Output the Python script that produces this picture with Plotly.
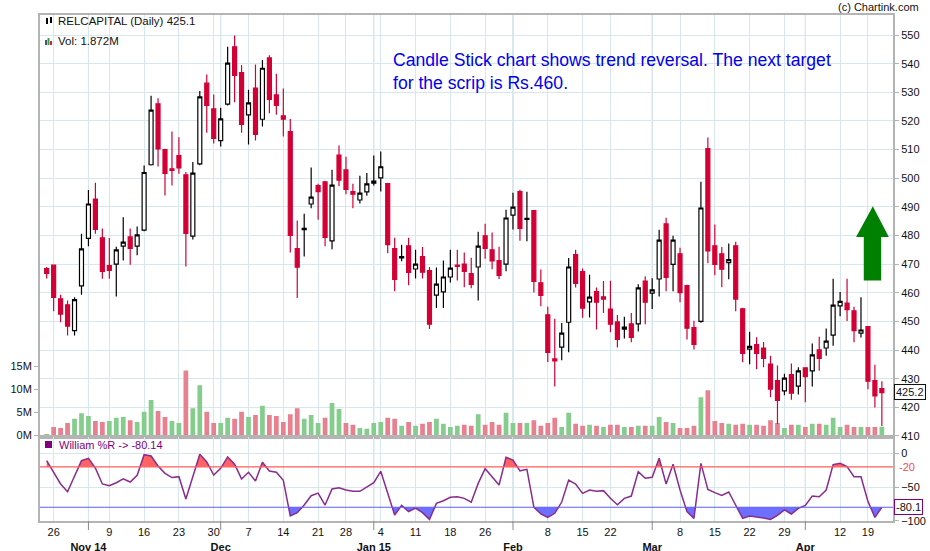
import plotly.graph_objects as go

# RELCAPITAL daily, 23 Oct 2014 - 22 Apr 2015 (121 sessions)
open_ = [468.4, 469.7, 457.9, 455.8, 446.8, 462.4, 479.0, 492.7, 479.2, 469.5,
         470.0, 476.3, 479.5, 476.3, 481.9, 504.7, 526.0, 510.0, 503.3, 507.9,
         501.2, 479.8, 505.0, 533.2, 524.2, 513.1, 525.9, 545.9, 536.9, 522.1,
         531.5, 520.6, 542.0, 529.1, 521.8, 516.3, 475.4, 482.0, 491.0, 497.4,
         498.7, 478.1, 508.1, 502.9, 495.3, 492.4, 495.2, 498.3, 500.1, 498.1,
         475.4, 472.2, 476.4, 468.3, 472.6, 467.7, 459.2, 460.3, 465.5, 469.7,
         470.0, 466.7, 469.0, 479.9, 475.0, 471.2, 470.0, 487.1, 495.3, 485.6,
         488.7, 463.5, 452.3, 436.9, 441.0, 449.7, 473.3, 467.4, 456.8, 460.4,
         458.6, 454.3, 449.8, 447.3, 449.1, 449.1, 464.1, 459.9, 464.8, 484.1,
         469.9, 473.6, 462.5, 447.8, 450.0, 510.3, 476.4, 473.6, 470.5, 476.4,
         454.4, 440.3, 441.9, 440.7, 435.1, 429.3, 425.7, 431.4, 427.4, 433.8,
         432.7, 440.1, 440.7, 445.2, 455.4, 456.4, 453.7, 445.9, 448.2, 429.3,
         426.5]
high = [469.0, 469.7, 459.3, 457.3, 458.4, 480.6, 495.9, 498.4, 482.4, 479.1,
        476.1, 486.4, 482.4, 483.1, 504.4, 528.8, 527.9, 510.3, 516.3, 514.3,
        502.2, 505.7, 530.5, 536.2, 529.2, 524.6, 545.9, 549.8, 539.5, 530.9,
        539.7, 541.3, 542.9, 536.5, 531.3, 520.7, 485.2, 487.6, 503.7, 498.1,
        499.1, 503.0, 511.4, 507.5, 498.1, 500.9, 501.8, 507.9, 509.3, 498.1,
        479.2, 476.8, 479.2, 475.0, 476.0, 469.0, 468.8, 471.3, 475.0, 475.0,
        474.1, 472.2, 481.3, 484.1, 481.0, 476.1, 489.0, 494.9, 496.0, 495.3,
        488.7, 468.1, 455.1, 450.9, 449.4, 472.1, 475.0, 468.5, 466.3, 461.8,
        464.1, 464.2, 452.2, 451.6, 452.9, 463.0, 465.8, 465.1, 482.0, 486.2,
        479.9, 475.7, 462.8, 450.2, 498.8, 514.2, 483.8, 476.0, 477.2, 477.8,
        454.8, 446.4, 444.5, 442.8, 438.0, 434.6, 431.7, 435.3, 434.0, 433.8,
        442.3, 444.6, 447.5, 464.9, 460.3, 464.9, 455.1, 458.4, 448.2, 434.9,
        429.1]
low = [465.0, 453.5, 449.7, 445.1, 445.1, 459.3, 476.2, 480.6, 464.9, 464.9,
       458.7, 471.3, 469.8, 473.1, 481.5, 504.4, 504.1, 494.0, 497.5, 501.6,
       469.2, 478.6, 504.5, 515.9, 512.1, 511.1, 525.4, 526.5, 515.9, 511.8,
       513.2, 518.1, 522.7, 522.2, 514.6, 474.1, 458.2, 472.7, 489.5, 485.5,
       476.2, 475.2, 497.2, 494.4, 489.5, 491.2, 493.9, 497.5, 495.4, 473.8,
       460.5, 471.0, 462.6, 465.0, 465.0, 447.3, 454.7, 454.7, 463.6, 464.3,
       461.9, 461.6, 457.3, 471.9, 468.2, 464.8, 467.5, 482.1, 478.2, 478.0,
       460.1, 455.3, 435.8, 427.3, 436.4, 439.2, 461.8, 451.3, 451.4, 447.2,
       452.9, 446.2, 440.9, 444.0, 442.7, 446.5, 449.0, 454.3, 458.7, 460.5,
       460.5, 456.7, 443.7, 440.2, 449.5, 470.3, 466.1, 461.9, 464.7, 453.5,
       435.7, 435.0, 433.3, 434.0, 423.5, 414.2, 424.2, 422.6, 424.5, 421.8,
       427.3, 432.8, 438.0, 441.5, 451.8, 450.1, 442.7, 444.4, 426.3, 419.9,
       413.5]
close = [466.8, 458.4, 452.5, 448.3, 457.6, 475.3, 491.0, 482.1, 467.5, 467.8,
         475.0, 477.7, 475.5, 480.2, 502.0, 523.8, 510.2, 501.7, 502.7, 503.6,
         480.7, 501.8, 528.4, 525.4, 513.9, 520.7, 540.2, 535.9, 518.8, 526.3,
         515.3, 538.4, 527.5, 525.4, 520.6, 480.0, 468.9, 482.5, 493.4, 495.3,
         479.3, 497.6, 499.3, 496.1, 494.4, 494.8, 498.0, 499.0, 504.0, 476.8,
         464.7, 472.6, 467.1, 470.0, 467.2, 449.0, 463.0, 465.5, 468.6, 469.2,
         467.5, 462.9, 476.3, 475.5, 471.1, 466.1, 486.1, 489.9, 482.5, 486.0,
         464.0, 459.1, 439.2, 436.2, 445.9, 469.0, 463.3, 454.6, 458.5, 456.7,
         457.8, 449.0, 443.7, 448.0, 444.4, 461.7, 456.7, 461.0, 478.4, 465.4,
         478.4, 460.0, 447.6, 442.0, 489.6, 474.6, 469.9, 468.2, 471.6, 457.8,
         438.8, 441.3, 438.8, 437.1, 426.3, 422.4, 430.2, 424.9, 432.7, 430.7,
         438.3, 437.1, 443.1, 455.7, 457.0, 454.1, 446.8, 447.0, 429.1, 424.0,
         425.1]
# volume in millions of shares
volume = [0.3, 1.8, 1.6, 2.7, 3.6, 4.8, 4.2, 3.1, 2.9, 3.1,
          3.8, 4.0, 3.3, 2.9, 5.1, 7.7, 5.3, 4.0, 3.1, 2.7,
          14.1, 5.9, 10.9, 5.1, 2.7, 2.7, 3.8, 3.6, 5.1, 4.0,
          4.4, 6.4, 4.4, 4.2, 2.9, 4.6, 5.9, 3.6, 4.4, 2.7,
          3.8, 7.0, 5.7, 2.7, 2.3, 1.6, 1.4, 2.7, 2.9, 3.8,
          3.6, 2.1, 2.9, 2.1, 2.5, 2.9, 3.6, 2.5, 1.8, 2.1,
          2.3, 2.1, 4.6, 2.3, 2.9, 2.3, 4.9, 2.7, 2.7, 2.7,
          3.3, 2.1, 2.7, 3.8, 1.8, 4.9, 2.5, 2.1, 2.3, 2.1,
          1.8, 2.3, 2.3, 1.8, 1.8, 2.1, 2.1, 2.1, 4.0, 2.9,
          2.7, 1.6, 1.6, 2.1, 8.3, 9.8, 3.1, 2.7, 2.5, 2.3,
          2.5, 2.3, 2.3, 2.1, 3.3, 2.7, 1.6, 2.3, 2.3, 1.8,
          2.5, 2.5, 2.3, 3.8, 1.8, 2.3, 1.8, 1.8, 1.8, 1.8,
          1.872]
# Williams %R (14)
will_r = [-11, -28, -45.5, -57, -35, -11, -7.4, -22, -45.5, -48,
          -43.6, -38, -42.6, -32.7, -2, -4, -18.8, -29.7, -36, -34.7,
          -67.8, -34.7, -1.5, -12.9, -32.2, -22.3, -5.4, -16.3, -38, -28.2,
          -41, -13.4, -26.2, -28.2, -40, -93, -88, -76.7, -62.9, -59,
          -76.7, -53, -51, -54.5, -56.4, -56.4, -49.5, -43.6, -26.7, -60.4,
          -91.6, -77.2, -86.6, -81.2, -88.1, -98, -74.3, -70.3, -65.3, -64.4,
          -66.8, -72.5, -44.6, -22.8, -34.7, -47, -6, -10, -26, -23.8,
          -80, -90, -95, -89, -72.3, -39.6, -45.5, -59.4, -54.5, -56.4,
          -55.4, -66.8, -76.2, -66.8, -63.4, -27.2, -37.1, -35.6, -7.4, -45.5,
          -16.3, -54.5, -86.6, -96.5, -14.9, -53.5, -58.4, -62.4, -57.4, -76.7,
          -96.5, -93, -94, -96, -98, -92, -84, -90, -81.7, -77.2,
          -63.4, -64.4, -54.5, -16.8, -14.9, -19.8, -34.7, -34.7, -71.3, -95,
          -80.14]

# x-axis labels (session index -> label)
day_ticks = [1, 9, 14, 19, 24, 29, 34, 39, 43, 48, 53, 58, 63,
             72, 77, 81, 91, 96, 101, 106, 114, 118]
day_labels = ['26', '9', '16', '23', '30', '7', '14', '21', '28', '4', '11', '18', '26',
              '8', '15', '22', '8', '15', '22', '29', '12', '19']
month_ticks = [6, 25, 47, 67, 87, 109]
month_labels = ['Nov 14', 'Dec', 'Jan 15', 'Feb', 'Mar', 'Apr']

RED = '#d20035'
VOL_UP = '#84cd8d'
VOL_DN = '#e8818f'
GRID = '#d8e7ed'
MONTH_GRID = '#b8cfd9'
AXIS = '#b4b4b4'
PURPLE = '#8a2b8f'
FONT = 'Liberation Sans, Arial, sans-serif'

W, H = 930, 551
ML, MR, MT, MB = 40, 37, 15, 30


def px(x):
    return (x - ML) / (W - ML - MR)


def py(y):
    return (H - MB - y) / (H - MT - MB)


def band(xs, ys, level, upper):
    """Part of the %R line beyond a level, closed back along the level."""
    out_x, out_y = [], []
    for i in range(len(xs)):
        if i > 0:
            a, b = ys[i - 1] - level, ys[i] - level
            if a * b < 0:
                t = a / (a - b)
                out_x.append(xs[i - 1] + t * (xs[i] - xs[i - 1]))
                out_y.append(level)
        v = max(ys[i], level) if upper else min(ys[i], level)
        out_x.append(xs[i])
        out_y.append(v)
    return out_x + [out_x[-1], out_x[0]], out_y + [level, level]


idx = list(range(len(close)))
vol_colors = [VOL_UP] + [VOL_UP if close[i] >= close[i - 1] else VOL_DN for i in idx[1:]]
split = py(436.5)

fig = go.Figure()

fig.add_trace(go.Bar(x=idx, y=volume, marker=dict(color=vol_colors, line_width=0),
                     width=0.68, xaxis='x', yaxis='y', hoverinfo='skip'))

fig.add_trace(go.Candlestick(
    x=idx, open=open_, high=high, low=low, close=close,
    increasing=dict(line=dict(color='black', width=1.2), fillcolor='white'),
    decreasing=dict(line=dict(color=RED, width=1.2), fillcolor=RED),
    xaxis='x', yaxis='y2', hoverinfo='skip'))

# Williams %R panel
hx, hy = band(idx, will_r, -20, True)
fig.add_trace(go.Scatter(x=hx, y=hy, fill='toself', fillcolor='#ff6363', mode='none',
                         xaxis='x2', yaxis='y3', hoverinfo='skip'))
lx, ly = band(idx, will_r, -80, False)
fig.add_trace(go.Scatter(x=lx, y=ly, fill='toself', fillcolor='#6e6eff', mode='none',
                         xaxis='x2', yaxis='y3', hoverinfo='skip'))
fig.add_trace(go.Scatter(x=idx, y=will_r, mode='lines', line=dict(color=PURPLE, width=1.5),
                         xaxis='x2', yaxis='y3', hoverinfo='skip'))

shapes = []
for m in month_ticks:
    shapes.append(dict(type='line', xref='x', yref='paper', x0=m, x1=m, y0=0, y1=1,
                       line=dict(color=MONTH_GRID, width=1), layer='below'))
    shapes.append(dict(type='line', xref='x', yref='paper', x0=m, x1=m,
                       y0=0, y1=py(530), line=dict(color='#888888', width=1)))
shapes.append(dict(type='line', xref='paper', yref='y3', x0=0, x1=1, y0=-20, y1=-20,
                   line=dict(color='#ff5c5c', width=1.2)))
shapes.append(dict(type='line', xref='paper', yref='y3', x0=0, x1=1, y0=-80, y1=-80,
                   line=dict(color='#5c5cff', width=1.2)))

# green target arrow
shapes.append(dict(type='path', xref='x', yref='y2', fillcolor='#008000', line_width=0,
                   path='M 117.4 464.3 L 117.4 479.5 L 116.3 479.5 L 118.7 490.2 '
                        'L 121.0 479.5 L 119.9 479.5 L 119.9 464.3 Z'))

# small legend icons
shapes += [
    dict(type='rect', xref='paper', yref='paper', x0=px(46), x1=px(48), y0=py(24), y1=py(18),
         fillcolor='black', line_width=0),
    dict(type='rect', xref='paper', yref='paper', x0=px(50), x1=px(52), y0=py(23), y1=py(17),
         fillcolor='black', line_width=0),
    dict(type='rect', xref='paper', yref='paper', x0=px(45), x1=px(47), y0=py(45), y1=py(40),
         fillcolor='#3c5a78', line_width=0),
    dict(type='rect', xref='paper', yref='paper', x0=px(47.5), x1=px(49.5), y0=py(45), y1=py(38),
         fillcolor='#3c9a50', line_width=0),
    dict(type='rect', xref='paper', yref='paper', x0=px(50), x1=px(52), y0=py(45), y1=py(41),
         fillcolor='#c8283c', line_width=0),
    dict(type='rect', xref='paper', yref='paper', x0=px(45), x1=px(52), y0=py(448), y1=py(441),
         fillcolor='#800080', line_width=0),
]

annotations = [
    dict(text='RELCAPITAL (Daily) 425.1', xref='paper', yref='paper', x=px(56), y=py(21),
         xanchor='left', yanchor='middle', showarrow=False, font=dict(size=11.5, color='#111')),
    dict(text='Vol: 1.872M', xref='paper', yref='paper', x=px(56), y=py(41),
         xanchor='left', yanchor='middle', showarrow=False, font=dict(size=11.5, color='#111')),
    dict(text='(c) Chartink.com', xref='paper', yref='paper', x=px(921), y=py(7),
         xanchor='right', yanchor='middle', showarrow=False, font=dict(size=11, color='#111')),
    dict(text='Candle Stick chart shows trend reversal. The next target<br>for the scrip is Rs.460.',
         xref='paper', yref='paper', x=px(391), y=py(48), xanchor='left', yanchor='top',
         align='left', showarrow=False, font=dict(size=17.6, color='#0000ee')),
    dict(text='William %R -> -80.14', xref='paper', yref='paper', x=px(57), y=py(445),
         xanchor='left', yanchor='middle', showarrow=False, font=dict(size=11, color='#800080')),
    dict(text='425.2', xref='paper', yref='y2', x=1, y=425.2, xanchor='left', xshift=1,
         showarrow=False, font=dict(size=11, color='#111'), bordercolor='#111',
         borderwidth=1, borderpad=1, bgcolor='white'),
    dict(text='-20', xref='paper', yref='y3', x=1, y=-20, xanchor='left', xshift=4,
         showarrow=False, font=dict(size=11, color='#ff4c4c')),
    dict(text='-80.1', xref='paper', yref='y3', x=1, y=-80.14, xanchor='left', xshift=1,
         showarrow=False, font=dict(size=11, color='#111'), bordercolor='#800080',
         borderwidth=1, borderpad=1, bgcolor='white'),
]

tick_vals = day_ticks + month_ticks
tick_text = day_labels + ['<br><b>%s</b>' % m for m in month_labels]

fig.update_layout(
    width=W, height=H,
    margin=dict(l=ML, r=MR, t=MT, b=MB, autoexpand=False),
    paper_bgcolor='white', plot_bgcolor='white',
    showlegend=False,
    boxgap=0.18,
    font=dict(family=FONT, size=11, color='#111'),
    xaxis=dict(domain=[0, 1], anchor='y', range=[-0.96, 121.6], tickvals=tick_vals,
               showticklabels=False, showgrid=True, gridcolor=GRID, zeroline=False,
               showline=True, mirror=True, linecolor=AXIS, linewidth=2, ticks='',
               automargin=False, rangeslider=dict(visible=False)),
    yaxis=dict(domain=[split, 1], anchor='x', side='left', range=[-0.26, 91.4],
               tickvals=[0, 5, 10, 15], ticktext=['0M', '5M', '10M', '15M'],
               showgrid=False, zeroline=False, ticks='outside', ticklen=4, tickcolor=AXIS,
               showline=True, linecolor=AXIS, linewidth=2, automargin=False),
    yaxis2=dict(overlaying='y', anchor='x', side='right', range=[409.8, 557],
                tick0=410, dtick=10, showgrid=True, gridcolor=GRID, zeroline=False,
                ticks='outside', ticklen=4, tickcolor=AXIS,
                showline=True, linecolor=AXIS, linewidth=2, automargin=False),
    xaxis2=dict(domain=[0, 1], anchor='y3', matches='x', tickvals=tick_vals,
                ticktext=tick_text, showgrid=True, gridcolor=GRID, zeroline=False,
                showline=True, mirror=True, linecolor=AXIS, linewidth=2, ticks='',
                automargin=False),
    yaxis3=dict(domain=[0, split], anchor='x2', side='right', range=[-100.4, 24.9],
                tickvals=[0, -50, -100], showgrid=True, gridcolor=GRID, zeroline=False,
                ticks='outside', ticklen=4, tickcolor=AXIS,
                showline=True, mirror=True, linecolor=AXIS, linewidth=2, automargin=False),
    shapes=shapes,
    annotations=annotations,
)

# the page is exactly the size of the figure, so drop the default body margin
fig.write_html('out.html', config={'displayModeBar': False},
               post_script="document.body.style.margin='0';"
                           "document.body.style.overflow='hidden';")
